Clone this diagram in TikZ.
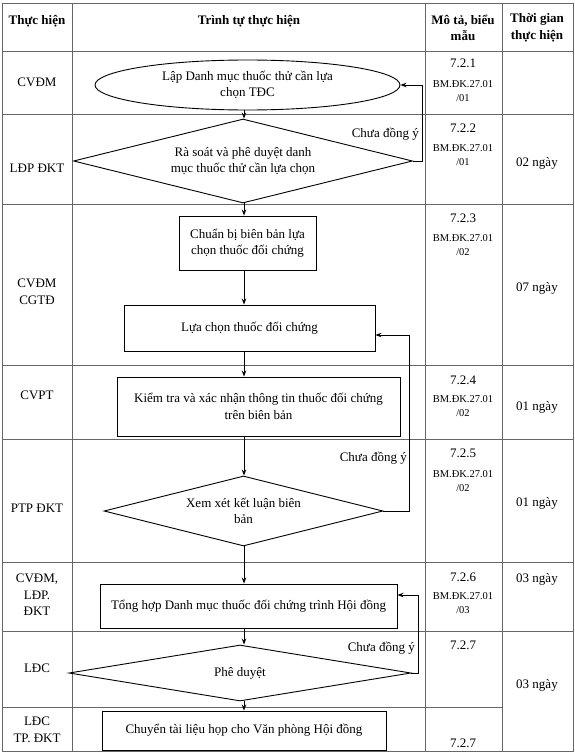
\documentclass[tikz,border=0pt]{standalone}
\usepackage{fontspec}
\setmainfont{Liberation Serif}
\usetikzlibrary{arrows.meta,shapes.geometric}

\newcommand\flowfont{\fontsize{13bp}{16.5bp}\selectfont}
\newcommand\formfont{\fontsize{10.5bp}{14bp}\selectfont}

\begin{document}
\begin{tikzpicture}[x=1bp, y=-1bp,
    every node/.style={font=\flowfont, align=center, inner sep=0pt},
    hd/.style={font=\flowfont\bfseries},
    box/.style={rectangle, draw, line width=0.9bp},
    ell/.style={ellipse, draw, line width=0.9bp},
    dec/.style={diamond, draw, line width=0.9bp},
    e/.style={line width=0.9bp, -{Stealth[length=6bp, width=4.5bp]}},
    lbl/.style={anchor=east},
    frm/.style={font=\formfont},
    grid/.style={draw=black!60, line width=0.8bp},
  ]
  \useasboundingbox (0,0) rectangle (575,755);
  % table frame
  \draw[grid] (2,3) rectangle (573,751);
  \draw[grid] (72,3) -- (72,751);
  \draw[grid] (425,3) -- (425,751);
  \draw[grid] (502,3) -- (502,751);
  \draw[grid] (2,51) -- (573,51);
  \draw[grid] (2,114) -- (573,114);
  \draw[grid] (2,204) -- (573,204);
  \draw[grid] (2,365) -- (573,365);
  \draw[grid] (2,439) -- (573,439);
  \draw[grid] (2,562) -- (573,562);
  \draw[grid] (2,631) -- (573,631);
  \draw[grid] (2,707) -- (502,707);
  % header
  \node[hd] (h1) at (37,21) {Thực hiện};
  \node[hd] (h2) at (249,21) {Trình tự thực hiện};
  \node[hd] (h3) at (463,28) {Mô tả, biểu\\mẫu};
  \node[hd] (h4) at (537,28) {Thời gian\\thực hiện};
  % who
  \node (r1) at (37,82) {CVĐM};
  \node (r2) at (37,168) {LĐP ĐKT};
  \node (r3) at (37,292) {CVĐM\\CGTĐ};
  \node (r4) at (37,395) {CVPT};
  \node (r5) at (37,508) {PTP ĐKT};
  \node (r6) at (37,595) {CVĐM,\\LĐP.\\ĐKT};
  \node (r7) at (37,668) {LĐC};
  \node (r8) at (37,730) {LĐC\\TP. ĐKT};
  % forms
  \node (s1) at (463,63) {7.2.1};
  \node[frm] (f1) at (463,91) {BM.ĐK.27.01\\/01};
  \node (s2) at (463,128) {7.2.2};
  \node[frm] (f2) at (463,155.5) {BM.ĐK.27.01\\/01};
  \node (s3) at (463,218) {7.2.3};
  \node[frm] (f3) at (463,245.5) {BM.ĐK.27.01\\/02};
  \node (s4) at (463,380) {7.2.4};
  \node[frm] (f4) at (463,406.5) {BM.ĐK.27.01\\/02};
  \node (s5) at (463,453) {7.2.5};
  \node[frm] (f5) at (463,481.5) {BM.ĐK.27.01\\/02};
  \node (s6) at (463,577) {7.2.6};
  \node[frm] (f6) at (463,603.5) {BM.ĐK.27.01\\/03};
  \node (s7) at (463,645) {7.2.7};
  \node (s8) at (463,743) {7.2.7};
  % time
  \node (t2) at (537,163) {02 ngày};
  \node (t3) at (537,288) {07 ngày};
  \node (t4) at (537,407) {01 ngày};
  \node (t5) at (537,503) {01 ngày};
  \node (t6) at (537,579) {03 ngày};
  \node (t7) at (537,685) {03 ngày};
  % flow
  \coordinate (axis) at (244,0);
  \node[ell, minimum width=305bp, minimum height=50bp] (lap) at (247.5,85) {Lập Danh mục thuốc thử cần lựa\\chọn TĐC};
  \node[dec, minimum width=339bp, minimum height=84bp, aspect=4] (rasoat) at (243,161) {Rà soát và phê duyệt danh\\mục thuốc thử cần lựa chọn};
  \node[box, minimum width=137bp, minimum height=54bp] (chuanbi) at (247.5,243) {Chuẩn bị biên bản lựa\\chọn thuốc đối chứng};
  \node[box, minimum width=251bp, minimum height=46bp] (luachon) at (249.5,328) {Lựa chọn thuốc đối chứng};
  \node[box, minimum width=283bp, minimum height=59bp] (kiemtra) at (258.5,406.5) {Kiểm tra và xác nhận thông tin thuốc đối chứng\\trên biên bản};
  \node[dec, minimum width=279bp, minimum height=70bp, aspect=4] (xemxet) at (243.5,511) {Xem xét kết luận biên\\bản};
  \node[box, minimum width=297bp, minimum height=44bp] (tonghop) at (248.5,606) {Tổng hợp Danh mục thuốc đối chứng trình Hội đồng};
  \node[dec, minimum width=342bp, minimum height=56bp, aspect=6] (pheduyet) at (240,673) {Phê duyệt};
  \node[box, minimum width=284bp, minimum height=39bp] (chuyen) at (244,730.5) {Chuyển tài liệu họp cho Văn phòng Hội đồng};
  \draw[e] (lap.south -| axis) -- (rasoat.north -| axis);
  \draw[e] (rasoat.south -| axis) -- (chuanbi.north -| axis);
  \draw[e] (chuanbi.south -| axis) -- (luachon.north -| axis);
  \draw[e] (luachon.south -| axis) -- (kiemtra.north -| axis);
  \draw[e] (kiemtra.south -| axis) -- (xemxet.north -| axis);
  \draw[e] (xemxet.south -| axis) -- (tonghop.north -| axis);
  \draw[e] (tonghop.south -| axis) -- (pheduyet.north -| axis);
  \draw[e] (pheduyet.south -| axis) -- (chuyen.north -| axis);
  % back loops
  \draw[e] (rasoat.east) -- ++(9,0) |- (lap.east);
  \draw[e] (xemxet.east) -- ++(26,0) |- ([yshift=-7bp]luachon.east);
  \draw[e] (pheduyet.east) -- ++(7,0) |- ([yshift=11bp]tonghop.east);
  \node[lbl] (no1) at (419,134) {Chưa đồng ý};
  \node[lbl] (no2) at (407,458) {Chưa đồng ý};
  \node[lbl] (no3) at (415,648) {Chưa đồng ý};
\end{tikzpicture}
\end{document}
